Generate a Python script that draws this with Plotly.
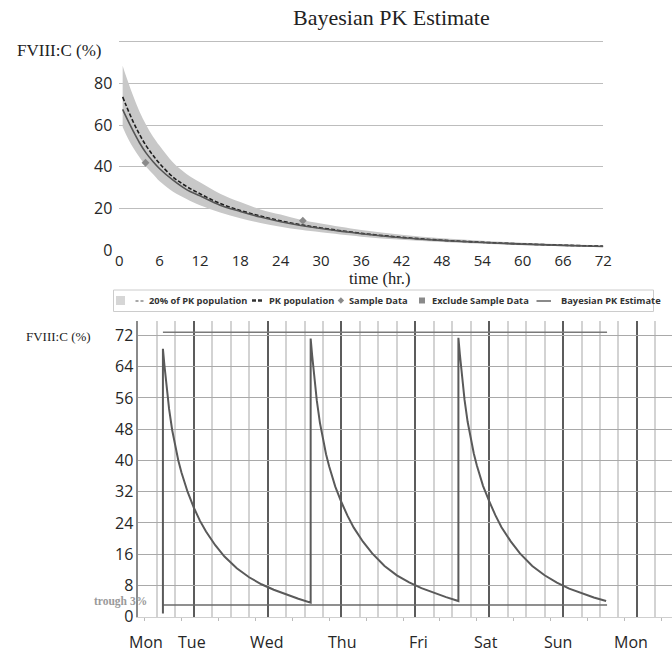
import plotly.graph_objects as go

W, H = 672, 654


def px(x):
    return x / W


def py(y):
    return 1 - y / H


# ---------------- top chart data ----------------
t_hours = [0.5, 1, 2, 3, 4, 5, 6, 8, 10, 12, 15, 18, 21, 24, 27, 30, 36, 42, 48, 54, 60, 66, 72]
bayes_est = [67.5, 64, 57.5, 51.5, 46.5, 42.5, 39, 33.5, 29, 26, 21.5, 18.5, 15.8, 13.6, 11.8,
             10.3, 7.8, 5.9, 4.6, 3.6, 2.8, 2.2, 1.7]
pk_pop = [73.5, 69.5, 62, 55.5, 50, 45.5, 41.5, 35, 30.5, 27, 22.3, 19, 16.3, 14, 12.1,
          10.6, 8, 6.1, 4.7, 3.7, 2.9, 2.3, 1.8]
band_upper = [88.5, 83.5, 74.5, 66.5, 60, 54.5, 50, 42, 36.5, 32.5, 27, 23, 19.5, 17, 14.5,
              12.7, 9.6, 7.3, 5.6, 4.4, 3.5, 2.8, 2.2]
band_lower = [59, 55.5, 49.5, 44.5, 40, 36.5, 33, 28, 24.5, 21.5, 18, 15.2, 13, 11.2, 9.7,
              8.5, 6.4, 4.9, 3.8, 3, 2.3, 1.8, 1.4]
sample_t = [3.9, 27.3]
sample_y = [41.9, 14.1]
x_ticks_top = [0, 6, 12, 18, 24, 30, 36, 42, 48, 54, 60, 66, 72]
y_ticks_top = [0, 20, 40, 60, 80, 100]
y_ticktext_top = ["0", "20", "40", "60", "80", ""]

legend_labels = ["20% of PK population", "PK population", "Sample Data",
                 "Exclude Sample Data", "Bayesian PK Estimate"]

# ---------------- bottom chart data ----------------
dose_hours = [14, 62, 110]
pre_dose_level = 0.85
hours_after_dose = [0, 0.5, 1, 1.5, 2, 3, 4, 5, 6, 8, 10, 12, 14, 17, 20, 24, 28, 32, 36, 40, 44, 48]
cycle1 = [68.6, 64.3, 60.5, 56.6, 53.2, 47.8, 43.6, 40.0, 37.0, 32.0, 28.0, 24.6, 21.8, 18.3,
          15.4, 12.4, 10.1, 8.3, 6.9, 5.7, 4.6, 3.6]
cycle2 = [71.2, 66.8, 62.8, 58.8, 55.3, 49.7, 45.3, 41.6, 38.5, 33.3, 29.3, 25.8, 22.8, 19.2,
          16.2, 13.0, 10.6, 8.8, 7.3, 6.1, 5.0, 4.0]
cycle3 = [71.4, 67.0, 63.0, 59.0, 55.5, 49.9, 45.5, 41.8, 38.7, 33.5, 29.6, 26.0, 22.9, 19.3,
          16.2, 13.0, 10.6, 8.7, 7.2, 6.0, 4.9, 4.0]
cycle_levels = [cycle1, cycle2, cycle3]
peak_line = 72.8
trough_line = 3
regimen_end = 158.3
day_names = ["Mon", "Tue", "Wed", "Thu", "Fri", "Sat", "Sun", "Mon"]
day_label_hours = [8.4, 23.4, 47.9, 72.1, 97.0, 119.0, 142.3, 166.0]
y_ticks_bottom = [0, 8, 16, 24, 32, 40, 48, 56, 64, 72]

curve_x = [dose_hours[0]]
curve_y = [pre_dose_level]
for d, lv in zip(dose_hours, cycle_levels):
    curve_x += [d + h for h in hours_after_dose]
    curve_y += lv

SANS = "Open Sans"
SERIF = "Liberation Serif"
TXT = "#262626"

fig = go.Figure()

fig.add_trace(go.Scatter(x=t_hours, y=band_lower, mode="lines", line=dict(width=0, shape="spline"),
                         showlegend=False, hoverinfo="skip", xaxis="x", yaxis="y"))
fig.add_trace(go.Scatter(x=t_hours, y=band_upper, mode="lines", line=dict(width=0, shape="spline"),
                         fill="tonexty", fillcolor="#c8c8c8", showlegend=False,
                         xaxis="x", yaxis="y"))
fig.add_trace(go.Scatter(x=t_hours, y=pk_pop, mode="lines",
                         line=dict(color="#1e1e1e", width=1.6, dash="4px,2px", shape="spline"),
                         showlegend=False, xaxis="x", yaxis="y"))
fig.add_trace(go.Scatter(x=t_hours, y=bayes_est, mode="lines",
                         line=dict(color="#555555", width=1.6, shape="spline"),
                         showlegend=False, xaxis="x", yaxis="y"))
fig.add_trace(go.Scatter(x=sample_t, y=sample_y, mode="markers",
                         marker=dict(symbol="diamond", size=6, color="#8a8a8a"),
                         showlegend=False, xaxis="x", yaxis="y"))

fig.add_trace(go.Scatter(x=[dose_hours[0], regimen_end], y=[peak_line, peak_line], mode="lines",
                         line=dict(color="#7a7a7a", width=1.5), showlegend=False,
                         xaxis="x2", yaxis="y2"))
fig.add_trace(go.Scatter(x=[dose_hours[0], regimen_end], y=[trough_line, trough_line], mode="lines",
                         line=dict(color="#6a6a6a", width=1.5), showlegend=False,
                         xaxis="x2", yaxis="y2"))
fig.add_trace(go.Scatter(x=curve_x, y=curve_y, mode="lines",
                         line=dict(color="#5a5a5a", width=2), showlegend=False,
                         xaxis="x2", yaxis="y2"))
fig.add_trace(go.Scatter(x=[None], y=[None], showlegend=False, xaxis="x3", yaxis="y2"))

top_x0, top_x1 = 119.3, 603.3
top_y0 = 250.0
top_pxu = 2.083
top_yr = 101.0
top_ytop = top_y0 - top_yr * top_pxu

bot_x0 = 138.3
bot_y0 = 616.7
bot_pxu = 3.906
bot_yr = 75.7
bot_ytop = bot_y0 - bot_yr * bot_pxu
bot_xr = [6, 179.4]

fig.update_layout(
    width=W, height=H, margin=dict(l=0, r=0, t=0, b=0, pad=0, autoexpand=False),
    paper_bgcolor="white", plot_bgcolor="white", showlegend=False,
    xaxis=dict(domain=[px(top_x0), px(top_x1)], range=[0, 72], anchor="y", automargin=False,
               tickmode="array", tickvals=x_ticks_top, showgrid=False, zeroline=False,
               showline=False, ticks="", tickfont=dict(family=SANS, size=15, color=TXT)),
    yaxis=dict(domain=[py(top_y0), py(top_ytop)], range=[0, top_yr], anchor="x", automargin=False,
               tickmode="array", tickvals=y_ticks_top, ticktext=y_ticktext_top,
               showgrid=True, gridcolor="#bdbdbd", gridwidth=1, zeroline=False,
               showline=False, ticks="", ticklabelstandoff=6,
               tickfont=dict(family=SANS, size=16, color=TXT)),
    xaxis2=dict(domain=[px(bot_x0), 1], range=bot_xr, anchor="y2", automargin=False,
                tickmode="linear", tick0=0, dtick=24, showticklabels=False, ticks="",
                showgrid=True, gridcolor="#5c5c5c", gridwidth=2,
                minor=dict(tickmode="linear", tick0=0, dtick=6, showgrid=True,
                           gridcolor="#d3d3d3", gridwidth=2, ticks=""),
                zeroline=False, showline=True, linecolor="#cfcfcf", linewidth=1),
    xaxis3=dict(overlaying="x2", range=bot_xr, anchor="y2", side="bottom", automargin=False,
                tickmode="linear", tick0=8, dtick=12, ticks="outside", ticklen=3,
                tickcolor="#bbbbbb", tickwidth=1, showticklabels=False,
                showgrid=False, zeroline=False, showline=False),
    yaxis2=dict(domain=[py(bot_y0), py(bot_ytop)], range=[0, bot_yr], anchor="x2", automargin=False,
                tickmode="array", tickvals=y_ticks_bottom, showgrid=True,
                gridcolor="#a9a9a9", gridwidth=1, zeroline=False,
                showline=True, linecolor="#8a8a8a", linewidth=1.5, ticks="",
                ticklabelstandoff=0, tickfont=dict(family=SANS, size=16, color=TXT)),
)

ann = []
ann.append(dict(text="Bayesian PK Estimate", x=px(391.7), y=py(17.5), xref="paper", yref="paper",
                xanchor="center", yanchor="middle", showarrow=False,
                font=dict(family=SERIF, size=22, color="#222222")))
ann.append(dict(text="FVIII:C (%)", x=px(15), y=py(50), xref="paper", yref="paper",
                xanchor="left", yanchor="middle", showarrow=False,
                font=dict(family=SERIF, size=17, color="#222222")))
ann.append(dict(text="time (hr.)", x=px(379.5), y=py(278), xref="paper", yref="paper",
                xanchor="center", yanchor="middle", showarrow=False,
                font=dict(family=SERIF, size=16.5, color="#222222")))
ann.append(dict(text="FVIII:C (%)", x=px(24), y=py(336), xref="paper", yref="paper",
                xanchor="left", yanchor="middle", showarrow=False,
                font=dict(family=SERIF, size=13, color="#222222")))
ann.append(dict(text="<b>trough 3%</b>", x=px(148.5), y=py(601.5), xref="paper", yref="paper",
                xanchor="right", yanchor="middle", showarrow=False,
                font=dict(family=SERIF, size=11.5, color="#9a9a9a")))
for name, hr in zip(day_names, day_label_hours):
    ann.append(dict(text=name, x=hr, y=py(642), xref="x2", yref="paper",
                    xanchor="center", yanchor="middle", showarrow=False,
                    font=dict(family=SANS, size=16, color=TXT)))

leg_y = 300.5
leg_text_x = [146.6, 266.7, 347.3, 429.7, 558.8]
for lab, lx in zip(legend_labels, leg_text_x):
    ann.append(dict(text="<b>" + lab + "</b>", x=px(lx), y=py(leg_y), xref="paper", yref="paper",
                    xanchor="left", yanchor="middle", showarrow=False,
                    font=dict(family=SANS, size=9.3, color="#333333")))

shapes = []
shapes.append(dict(type="rect", xref="paper", yref="paper", x0=px(113.5), x1=px(653.5),
                   y0=py(311.5), y1=py(290), line=dict(color="#cccccc", width=1),
                   fillcolor="rgba(0,0,0,0)"))
shapes.append(dict(type="rect", xref="paper", yref="paper", x0=px(116), x1=px(125),
                   y0=py(leg_y + 4.5), y1=py(leg_y - 4.5), line=dict(width=0),
                   fillcolor="#d6d6d6"))
shapes.append(dict(type="line", xref="paper", yref="paper", x0=px(135.5), x1=px(145),
                   y0=py(leg_y + 0.5), y1=py(leg_y + 0.5),
                   line=dict(color="#a8a8a8", width=2, dash="3px,2px")))
shapes.append(dict(type="line", xref="paper", yref="paper", x0=px(252), x1=px(263.5),
                   y0=py(leg_y), y1=py(leg_y),
                   line=dict(color="#333333", width=2.5, dash="4px,2px")))
dx, dy = 3.2, 3.2
cx = 340.9
shapes.append(dict(type="path", xref="paper", yref="paper",
                   path="M {} {} L {} {} L {} {} L {} {} Z".format(
                       px(cx), py(leg_y - dy), px(cx + dx), py(leg_y),
                       px(cx), py(leg_y + dy), px(cx - dx), py(leg_y)),
                   line=dict(width=0), fillcolor="#8a8a8a"))
shapes.append(dict(type="rect", xref="paper", yref="paper", x0=px(419), x1=px(425),
                   y0=py(leg_y + 3), y1=py(leg_y - 3), line=dict(width=0),
                   fillcolor="#8a8a8a"))
shapes.append(dict(type="line", xref="paper", yref="paper", x0=px(536.5), x1=px(551),
                   y0=py(leg_y + 0.5), y1=py(leg_y + 0.5),
                   line=dict(color="#8a8a8a", width=2)))

fig.update_layout(annotations=ann, shapes=shapes)
fig.write_html("out.html")
